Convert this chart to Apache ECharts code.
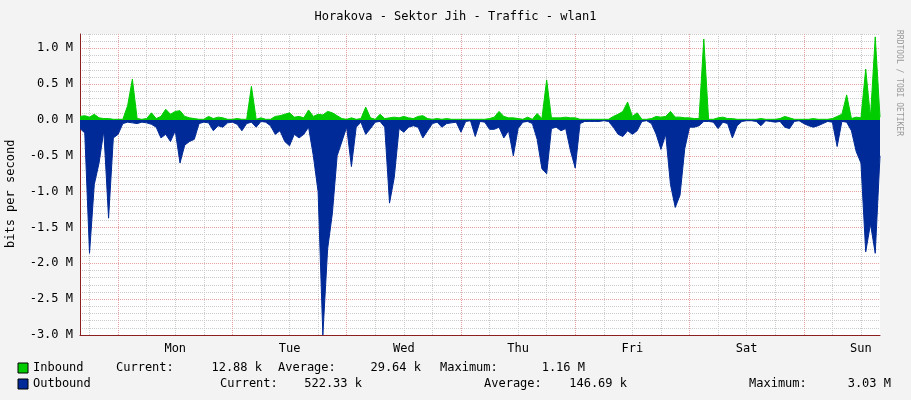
<!DOCTYPE html>
<html><head><meta charset="utf-8">
<script src="https://cdn.jsdelivr.net/npm/echarts@6/dist/echarts.min.js"></script>
<style>html,body{margin:0;padding:0;background:#f3f3f3}#c{width:911px;height:400px}</style>
</head><body><div id="c"></div>
<script>
// hours relative to Monday 00:00, from -8 to 160
var startHour = -8;
var dayNames = ['Mon','Tue','Wed','Thu','Fri','Sat','Sun'];
var inbound = [
0.05,0.06,0.04,0.08,0.03,0.02,0.02,0.01,
0.01,0.01,0.2,0.57,0.02,0.01,0.02,0.1,0.02,0.05,0.15,0.08,0.12,0.13,0.05,0.03,0.02,0.01,0.01,0.05,0.02,0.04,0.03,0.01,
0.01,0.02,0.01,0.01,0.47,0.01,0.03,0.01,0.01,0.05,0.06,0.08,0.1,0.04,0.05,0.03,0.14,0.05,0.08,0.07,0.12,0.1,0.06,0.02,
0.01,0.03,0.01,0.02,0.18,0.03,0.01,0.08,0.02,0.03,0.04,0.03,0.05,0.03,0.02,0.05,0.06,0.02,0.01,0.02,0.01,0.02,0.01,0.01,
0.01,0.01,0.01,0.01,0.01,0.01,0.02,0.04,0.12,0.05,0.03,0.03,0.02,0.01,0.04,0.01,0.09,0.02,0.56,0.03,0.03,0.03,0.04,0.03,
0.03,0.01,0.01,0.01,0.01,0.01,0.01,0.01,0.05,0.08,0.12,0.25,0.05,0.1,0.01,0.01,0.02,0.05,0.04,0.05,0.12,0.04,0.04,0.03,
0.03,0.02,0.02,1.13,0.01,0.01,0.03,0.04,0.02,0.02,0.01,0.01,0.01,0.01,0.01,0.02,0.01,0.01,0.01,0.02,0.05,0.03,0.01,0.01,
0.01,0.01,0.02,0.01,0.01,0.01,0.02,0.05,0.08,0.35,0.02,0.04,0.03,0.71,0.04,1.16,0.04];
var outbound = [
-0.12,-0.18,-1.86,-0.9,-0.6,-0.15,-1.37,-0.25,
-0.2,-0.05,-0.03,-0.04,-0.05,-0.03,-0.04,-0.06,-0.1,-0.25,-0.2,-0.3,-0.15,-0.6,-0.35,-0.3,-0.27,-0.05,-0.03,-0.04,-0.15,-0.08,-0.1,-0.04,
-0.03,-0.06,-0.15,-0.05,-0.03,-0.1,-0.02,-0.03,-0.08,-0.2,-0.15,-0.3,-0.36,-0.2,-0.25,-0.2,-0.1,-0.5,-1.0,-3.0,-1.8,-1.3,-0.5,-0.3,
-0.1,-0.65,-0.1,-0.03,-0.2,-0.12,-0.03,-0.02,-0.1,-1.16,-0.8,-0.12,-0.17,-0.1,-0.08,-0.1,-0.25,-0.15,-0.05,-0.03,-0.1,-0.05,-0.04,-0.03,
-0.17,-0.02,-0.01,-0.23,-0.02,-0.03,-0.13,-0.13,-0.1,-0.25,-0.15,-0.5,-0.12,-0.03,-0.02,-0.05,-0.27,-0.68,-0.75,-0.12,-0.1,-0.15,-0.12,-0.43,
-0.67,-0.05,-0.02,-0.02,-0.02,-0.02,-0.01,-0.02,-0.1,-0.2,-0.23,-0.15,-0.2,-0.15,-0.02,-0.01,-0.05,-0.2,-0.41,-0.2,-0.9,-1.22,-1.05,-0.4,
-0.1,-0.1,-0.08,-0.02,-0.02,-0.03,-0.12,-0.03,-0.05,-0.25,-0.08,-0.02,-0.01,-0.01,-0.02,-0.08,-0.01,-0.02,-0.03,-0.02,-0.1,-0.12,-0.02,-0.01,
-0.05,-0.08,-0.1,-0.08,-0.05,-0.02,-0.03,-0.37,-0.02,-0.03,-0.15,-0.44,-0.6,-1.84,-1.45,-1.86,-0.5];
function pairs(arr){return arr.map(function(v,i){return [startHour+i,v];});}
var mono = 'DejaVu Sans Mono';
var grey='#cccccc', red='#e8a0a0', none='rgba(0,0,0,0)';
var xColors=[none,grey,none,none,red,none,none,grey,none,none,grey,none];
var ch = echarts.init(document.getElementById('c'));
function txt(x,y,s,align){return {type:'text',x:x,y:y,style:{text:s,font:'12px '+mono,fill:'#000',textAlign:align||'left',textVerticalAlign:'middle'}};}
ch.setOption({
  animation:false,
  backgroundColor:'#f3f3f3',
  grid:{left:80,right:31,top:34,bottom:65,show:true,backgroundColor:'#ffffff',borderWidth:0,containLabel:false,outerBoundsMode:'none'},
  title:{text:'Horakova - Sektor Jih - Traffic - wlan1',left:'center',top:6,textStyle:{fontFamily:mono,fontSize:12,fontWeight:'normal',color:'#000'}},
  xAxis:{type:'value',min:-8,max:160,interval:2,
    axisLine:{onZero:false,lineStyle:{color:'#8b2020'}},axisTick:{show:false},
    axisLabel:{fontFamily:mono,fontSize:12,color:'#000',
      formatter:function(v){var m=((v%24)+24)%24; if(m===12&&v>0){return dayNames[Math.floor(v/24)]||'';} return '';}},
    splitLine:{show:true,lineStyle:{type:'dotted',color:xColors}}},
  yAxis:{type:'value',min:-3.0,max:1.2,interval:0.1,
    axisLine:{show:true,onZero:false,lineStyle:{color:'#8b2020'}},axisTick:{show:false},
    axisLabel:{fontFamily:mono,fontSize:12,color:'#000',margin:7,
      formatter:function(v){var r=Math.round(v*10); if(r%5!==0||r>10) return ''; return (r/10).toFixed(1)+' M';}},
    splitLine:{show:true,lineStyle:{type:'dotted',color:[red,grey,grey,grey,grey]}}},
  series:[
    {type:'line',data:pairs(outbound),symbol:'none',lineStyle:{width:1,color:'#002a97'},areaStyle:{color:'#002a97',opacity:1},z:3},
    {type:'line',data:pairs(inbound),symbol:'none',lineStyle:{width:1,color:'#00cc00'},areaStyle:{color:'#00cc00',opacity:1},z:4}
  ],
  graphic:[
    {type:'text',x:5,y:248,rotation:Math.PI/2,style:{text:'bits per second',font:'12px '+mono,fill:'#000',textVerticalAlign:'top'}},
    {type:'text',x:903,y:30,rotation:-Math.PI/2,style:{text:'RRDTOOL / TOBI OETIKER',font:'8px '+mono,fill:'#999'}},
    {type:'rect',shape:{x:18,y:363,width:10,height:10},style:{fill:'#00cc00',stroke:'#000',lineWidth:1}},
    {type:'rect',shape:{x:18,y:379,width:10,height:10},style:{fill:'#002a97',stroke:'#000',lineWidth:1}},
    txt(33,368,'Inbound'),txt(116,368,'Current:'),txt(262,368,'12.88 k','right'),
    txt(278,368,'Average:'),txt(421,368,'29.64 k','right'),txt(440,368,'Maximum:'),txt(585,368,'1.16 M','right'),
    txt(33,384,'Outbound'),txt(220,384,'Current:'),txt(362,384,'522.33 k','right'),
    txt(484,384,'Average:'),txt(627,384,'146.69 k','right'),txt(749,384,'Maximum:'),txt(891,384,'3.03 M','right')
  ]
});
</script></body></html>
